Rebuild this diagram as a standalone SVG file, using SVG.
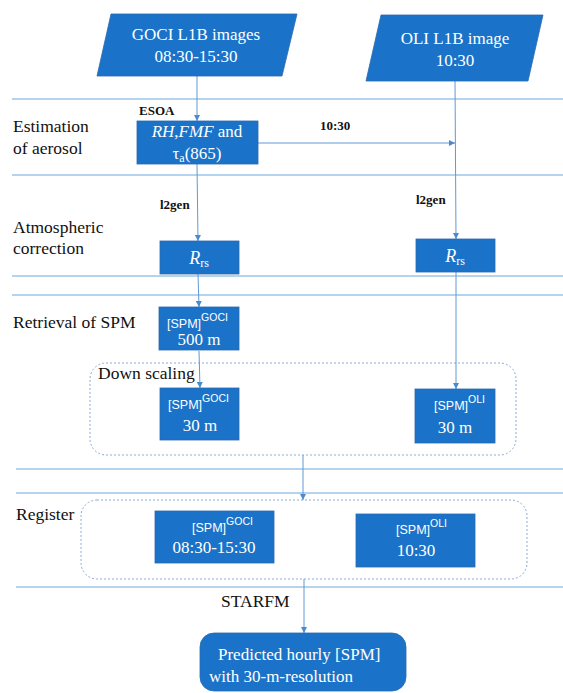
<svg xmlns="http://www.w3.org/2000/svg" width="563" height="693" viewBox="0 0 563 693">
<style>
.box{fill:#1a73c8;stroke:#2a6ab0;stroke-width:0.8}
.sep{stroke:#6fa8dc;stroke-width:1.2;fill:none}
.con{stroke:#5f99d6;stroke-width:1;fill:none}
.dash{fill:none;stroke:#8eaad6;stroke-width:1;stroke-dasharray:2,2}
.lbl{font-family:"Liberation Serif","Times New Roman",serif;font-size:17.5px;fill:#111}
.bl{font-family:"Liberation Serif","Times New Roman",serif;font-size:13px;font-weight:bold;fill:#111}
.wt{font-family:"Liberation Serif","Times New Roman",serif;font-size:17px;fill:#fff}
.ws{font-family:"Liberation Sans",Arial,sans-serif;font-size:12.5px;fill:#fff}
.sup{font-family:"Liberation Sans",Arial,sans-serif;font-size:10.5px;fill:#fff}
</style>
<defs>
<marker id="ah" viewBox="0 0 6 6" refX="6" refY="3" markerWidth="6" markerHeight="6" orient="auto" markerUnits="userSpaceOnUse">
<path d="M0,0 L6,3 L0,6 z" fill="#4a8ad0"/>
</marker>
</defs>
<rect width="563" height="693" fill="#fff"/>

<g id="separators">
<line class="sep" x1="12" y1="99" x2="563" y2="99"/>
<line class="sep" x1="12" y1="175" x2="563" y2="175"/>
<line class="sep" x1="12" y1="276" x2="563" y2="276"/>
<line class="sep" x1="12" y1="295" x2="563" y2="295"/>
<line class="sep" x1="16" y1="469" x2="563" y2="469"/>
<line class="sep" x1="16" y1="493" x2="563" y2="493"/>
<line class="sep" x1="16" y1="587" x2="563" y2="587"/>
</g>

<g id="row-labels" font-family="Liberation Serif, serif">
<text class="lbl" x="13" y="132">Estimation</text>
<text class="lbl" x="13" y="154">of aerosol</text>
<text class="lbl" x="13" y="233">Atmospheric</text>
<text class="lbl" x="13" y="254">correction</text>
<text class="lbl" x="13" y="328">Retrieval of SPM</text>
<text class="lbl" x="16" y="520">Register</text>
</g>

<g id="down-scaling">
<rect class="dash" x="90" y="363" width="426" height="92" rx="16"/>
<text class="lbl" x="98" y="379">Down scaling</text>
</g>
<g id="register-group">
<rect class="dash" x="81" y="500" width="446" height="79" rx="16"/>
</g>

<g id="connectors">
<line class="con" x1="197" y1="76" x2="197" y2="121" marker-end="url(#ah)"/>
<line class="con" x1="197" y1="164" x2="198" y2="241" marker-end="url(#ah)"/>
<line class="con" x1="198" y1="274" x2="199" y2="307" marker-end="url(#ah)"/>
<line class="con" x1="199" y1="351" x2="200" y2="388" marker-end="url(#ah)"/>
<line class="con" x1="455" y1="81" x2="456" y2="239" marker-end="url(#ah)"/>
<line class="con" x1="258" y1="143" x2="455" y2="143" marker-end="url(#ah)"/>
<line class="con" x1="456" y1="272" x2="456" y2="389" marker-end="url(#ah)"/>
<line class="con" x1="303" y1="455" x2="303" y2="500" marker-end="url(#ah)"/>
<line class="con" x1="304" y1="579" x2="304" y2="633" marker-end="url(#ah)"/>
<text class="bl" x="139" y="115">ESOA</text>
<text class="bl" x="320" y="130" font-size="13.5">10:30</text>
<text class="bl" x="160" y="209">l2gen</text>
<text class="bl" x="416" y="204">l2gen</text>
<text class="lbl" x="221" y="607">STARFM</text>
</g>

<g id="goci-l1b">
<polygon class="box" points="111,14 297,14 282,76 97,76"/>
<text class="wt" x="196" y="40" text-anchor="middle">GOCI L1B images</text>
<text class="wt" x="196" y="62" text-anchor="middle">08:30-15:30</text>
</g>

<g id="oli-l1b">
<polygon class="box" points="381,15 543,15 528,81 366,81"/>
<text class="wt" x="455" y="44" text-anchor="middle">OLI L1B image</text>
<text class="wt" x="455" y="66" text-anchor="middle">10:30</text>
</g>

<g id="aerosol">
<rect class="box" x="137" y="121" width="121" height="43"/>
<text class="wt" x="197" y="137" text-anchor="middle"><tspan font-style="italic">RH</tspan>,<tspan font-style="italic">FMF</tspan> and</text>
<text class="wt" x="197" y="159" text-anchor="middle">τ<tspan font-size="12" dy="3">a</tspan><tspan dy="-3">(865)</tspan></text>
</g>

<g id="rrs-goci">
<rect class="box" x="160" y="241" width="79" height="33"/>
<text class="wt" x="199" y="264" text-anchor="middle"><tspan font-style="italic" font-size="18">R</tspan><tspan font-size="12" dy="3">rs</tspan></text>
</g>

<g id="rrs-oli">
<rect class="box" x="416" y="239" width="79" height="33"/>
<text class="wt" x="455" y="262" text-anchor="middle"><tspan font-style="italic" font-size="18">R</tspan><tspan font-size="12" dy="3">rs</tspan></text>
</g>

<g id="spm-goci-500">
<rect class="box" x="159" y="307" width="80" height="43"/>
<text x="167" y="328"><tspan class="ws">[SPM]</tspan><tspan class="sup" dy="-7">GOCI</tspan></text>
<text class="wt" x="199" y="345" text-anchor="middle" font-size="16">500 m</text>
</g>

<g id="spm-goci-30">
<rect class="box" x="160" y="388" width="79" height="52"/>
<text x="168" y="409"><tspan class="ws">[SPM]</tspan><tspan class="sup" dy="-7">GOCI</tspan></text>
<text class="wt" x="200" y="431" text-anchor="middle" font-size="16">30 m</text>
</g>

<g id="spm-oli-30">
<rect class="box" x="415" y="389" width="80" height="54"/>
<text x="434" y="410"><tspan class="ws">[SPM]</tspan><tspan class="sup" dy="-7">OLI</tspan></text>
<text class="wt" x="455" y="433" text-anchor="middle" font-size="16">30 m</text>
</g>

<g id="reg-goci">
<rect class="box" x="155" y="511" width="119" height="52"/>
<text x="192" y="532"><tspan class="ws">[SPM]</tspan><tspan class="sup" dy="-7">GOCI</tspan></text>
<text class="wt" x="214" y="553" text-anchor="middle">08:30-15:30</text>
</g>

<g id="reg-oli">
<rect class="box" x="356" y="514" width="119" height="53"/>
<text x="396" y="534"><tspan class="ws">[SPM]</tspan><tspan class="sup" dy="-7">OLI</tspan></text>
<text class="wt" x="416" y="556" text-anchor="middle">10:30</text>
</g>

<g id="predicted">
<rect class="box" x="200" y="633" width="206" height="58" rx="14"/>
<text class="wt" x="218" y="660" font-size="18">Predicted hourly [SPM]</text>
<text class="wt" x="209" y="682" font-size="18">with 30-m-resolution</text>
</g>
</svg>
